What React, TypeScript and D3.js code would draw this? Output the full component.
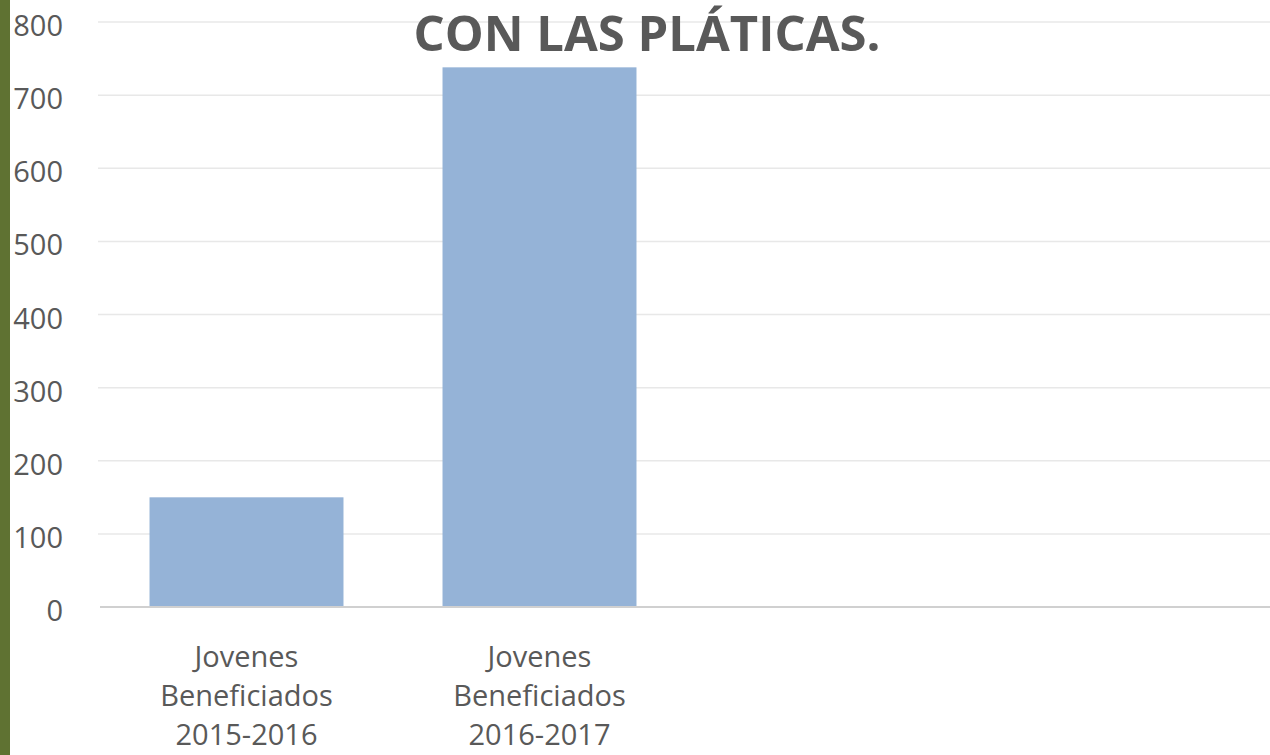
import React, { useEffect, useRef } from "react";
import * as d3 from "d3";

// chart data
const categories = [
  "Jovenes\nBeneficiados\n2015-2016",
  "Jovenes\nBeneficiados\n2016-2017",
  "",
  "",
];
const values: (number | null)[] = [150, 738, null, null];
const yTicks = [0, 100, 200, 300, 400, 500, 600, 700, 800];
const title = "CON LAS PLÁTICAS.";

export default function App() {
  const svgRef = useRef<SVGSVGElement>(null);

  useEffect(() => {
    const svg = d3.select(svgRef.current);
    svg.selectAll("*").remove();

    const width = 1270;
    const height = 755;
    const font = "'Open Sans', sans-serif";
    const textColor = "#595959";

    // left green strip
    svg
      .append("rect")
      .attr("x", 0)
      .attr("y", 0)
      .attr("width", 10)
      .attr("height", height)
      .attr("fill", "#5f7232");

    const x = d3
      .scaleBand<number>()
      .domain(categories.map((_, i) => i))
      .range([100, 1272])
      .paddingInner(0.338)
      .paddingOuter(0.169);

    const y = d3.scaleLinear().domain([0, 800]).range([607, 22]);

    // gridlines
    svg
      .append("g")
      .selectAll("line")
      .data(yTicks.filter((d) => d > 0))
      .enter()
      .append("line")
      .attr("x1", 98)
      .attr("x2", width)
      .attr("y1", (d) => y(d))
      .attr("y2", (d) => y(d))
      .attr("stroke", "#e8e8e8")
      .attr("stroke-width", 1.5);

    // bars
    svg
      .append("g")
      .selectAll("rect")
      .data(values.map((v, i) => ({ v, i })).filter((d) => d.v !== null))
      .enter()
      .append("rect")
      .attr("x", (d) => x(d.i)!)
      .attr("y", (d) => y(d.v as number))
      .attr("width", x.bandwidth())
      .attr("height", (d) => y(0) - y(d.v as number))
      .attr("fill", "#95b3d7");

    // baseline
    svg
      .append("line")
      .attr("x1", 100)
      .attr("x2", width)
      .attr("y1", y(0))
      .attr("y2", y(0))
      .attr("stroke", "#d0d0d0")
      .attr("stroke-width", 2);

    // y axis labels
    svg
      .append("g")
      .selectAll("text")
      .data(yTicks)
      .enter()
      .append("text")
      .attr("x", 63)
      .attr("y", (d) => y(d) + 14)
      .attr("text-anchor", "end")
      .attr("font-family", font)
      .attr("font-size", 29)
      .attr("fill", textColor)
      .text((d) => d);

    // x axis labels
    const labels = svg
      .append("g")
      .selectAll("text")
      .data(categories.map((c, i) => ({ c, i })))
      .enter()
      .append("text")
      .attr("text-anchor", "middle")
      .attr("font-family", font)
      .attr("font-size", 29)
      .attr("fill", textColor);
    labels
      .selectAll("tspan")
      .data((d) => (d.c ? d.c.split("\n").map((t) => ({ t, i: d.i })) : []))
      .enter()
      .append("tspan")
      .attr("x", (d) => x(d.i)! + x.bandwidth() / 2)
      .attr("y", (_, j) => 667 + j * 39)
      .text((d) => d.t);

    // title
    svg
      .append("text")
      .attr("x", 647)
      .attr("y", 51)
      .attr("text-anchor", "middle")
      .attr("font-family", font)
      .attr("font-weight", "bold")
      .attr("font-size", 49)
      .attr("fill", textColor)
      .text(title);
  }, []);

  return (
    <div style={{ position: "fixed", left: 0, top: 0 }}>
      <svg ref={svgRef} width={1270} height={755} style={{ display: "block", background: "#fff" }} />
    </div>
  );
}
